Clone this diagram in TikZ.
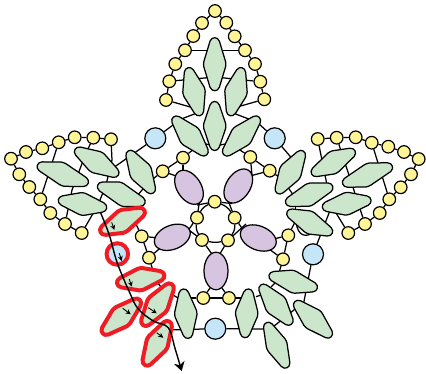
\documentclass[tikz,border=0pt]{standalone}
\usepackage{tikz}
\usepackage{xcolor}
\usetikzlibrary{shapes.geometric,arrows.meta}

\tikzset{
  thread/.style={line width=1.25pt, color=black},
  bead/.style={circle, draw, line width=1.2pt, fill=beadc, minimum size=12.6pt, inner sep=0pt},
  bluebead/.style={circle, draw, line width=1.2pt, fill=bluec, minimum size=21pt, inner sep=0pt},
  oval/.style={ellipse, draw, line width=1.25pt, fill=ovalc, minimum width=37.5pt, minimum height=24pt, inner sep=0pt},
  greenleaf/.style={draw, line width=1.25pt, fill=leafc},
  redleaf/.style={draw=redc, line width=4pt, fill=leafc, line join=round},
  pics/leaf/.style n args={3}{code={
    \path[pic actions] (-#1,0) .. controls (-#1,-2) and (-#1+1,-3.6) .. (-#1+3.5,-4.7)
      -- (#3-2.5,-#2+0.3) .. controls (#3-1,-#2) and (#3+1,-#2) .. (#3+2.5,-#2+0.3)
      -- (#1-3.5,-4.7) .. controls (#1-1,-3.6) and (#1,-2) .. (#1,0)
      .. controls (#1,2) and (#1-1,3.6) .. (#1-3.5,4.7)
      -- (-#3+2.5,#2-0.3) .. controls (-#3+1,#2) and (-#3-1,#2) .. (-#3-2.5,#2-0.3)
      -- (-#1+3.5,4.7) .. controls (-#1+1,3.6) and (-#1,2) .. (-#1,0) -- cycle;
  }},
}

\begin{document}
\begin{tikzpicture}[x=1pt,y=-1pt]
    \definecolor{beadc}{RGB}{255,245,150}
    \definecolor{bluec}{RGB}{197,230,248}
    \definecolor{ovalc}{RGB}{214,196,224}
    \definecolor{leafc}{RGB}{204,230,204}
    \definecolor{redc}{RGB}{238,28,37}
    \useasboundingbox (0,0) rectangle (426,373);

    % beads
    \foreach \n/\x/\y in {
      t1/166/100, t2/169.3/81.3, t3/175.3/64, t4/185/50.3, t5/193.3/36, t6/202/23, t7/215/11,
      t8/226.3/22.7, t9/234.7/36.3, t10/245/50.3, t11/255/64, t12/260.3/81.7, t13/264.3/99.3,
      m1/111/139.3, m2/93.3/137.7, m3/74.7/137.3, m4/58.7/142.3, m5/42.3/148.3, m6/26/152, m7/11/158.7,
      m8/19.3/174.3, m9/29.3/187, m10/40.3/199.3, m11/50.3/213, m12/65/224, m13/81.7/233,
      n1/317.7/139, n2/336.7/137.7, n3/355.7/137.3, n4/371.7/142.7, n5/388.3/146.7, n6/404/152, n7/418.7/159,
      n8/411/174.3, n9/400.7/187.3, n10/389.3/199.3, n11/379.7/213, n12/365/224, n13/348.3/233,
      r1/214.7/201.7, r2/234.7/217.7, r3/228/240.3, r4/202/240, r5/197/217.7,
      u1/183/157.7, u2/162.7/171.3, u3/250.3/157, u4/269.7/170.7,
      v1/141.7/236.3, v2/149/257.7, v3/288.3/235.3, v4/283/259.3,
      s1/203.3/298, s2/229/298}
      \node[bead] (\n) at (\x,\y) {};
    \foreach \n/\x/\y in {bl1/155.3/138.3, bl2/274.7/138.3, bl4/313/254.3, bl5/215.3/328.7}
      \node[bluebead] (\n) at (\x,\y) {};

    % free ends of the threads, under the leaves
    \foreach \n/\x/\y in {
      tm/215/77, ta/192/107.5, tb/236/107.3, la/176/121, lb/197/113, lc/254/121, ld/233/113,
      le/204/143.5, lf/212/145.5, lg/218/145.5, lh/230/143,
      e1/113/168, e2/177/122, e3/301/169, e4/258/123, e5/149/182, e6/194/149, e7/240/150, e8/285/181,
      pa/183/176, pb/179/177, pc/252/175, pd/250/176,
      a1/197/205, a2/200/198, a3/185/235, a4/185/227, a5/214/257, a6/218/257,
      a7/246/224, a8/246/234, a9/227.5/199, a10/232/203.5,
      w1/136/224, w2/154/274, w3/296/220, w4/278/276, w5/160/238, w6/165/244, w7/270/240, w8/265/246,
      c1/86/153, c2/72/190, c3/112/160, c4/106/185, c5/98/205, c6/136/197, c7/143/189,
      d1/327/185, d2/333/208, d3/331/208, d4/303.7/303, d5/287/186, d6/294/196, d7/295.7/203, d8/295.7/213,
      f1/210/288, f2/222/288, f3/186/298, f4/247/298, f5/173/295, f6/178/298, f7/256/296.7, f8/261/295,
      f9/271/287, f10/275/283, f11/166/330, f12/267/329, f13/268/331, f14/300/305, f15/157/282, f16/161/287,
      k1/296/222, k2/313/233}
      \coordinate (\n) at (\x,\y);

    % threads
    \foreach \i [count=\j from 2] in {1,...,12} {
      \draw[thread] (t\i) -- (t\j);
      \draw[thread] (m\i) -- (m\j);
      \draw[thread] (n\i) -- (n\j);
    }
    \draw[thread] (t4) -- (t10);
    \draw[thread] (t2) -- (tm) -- (t12);
    \draw[thread] (t1) -- (ta);
    \draw[thread] (t13) -- (tb);
    \draw[thread] (la) -- (lb);
    \draw[thread] (lc) -- (ld);
    \draw[thread] (le) -- (lf);
    \draw[thread] (lg) -- (lh);
    \draw[thread] (e1) -- (bl1) -- (e2);
    \draw[thread] (e3) -- (bl2) -- (e4);
    \draw[thread] (e5) -- (u2) -- (u1) -- (e6);
    \draw[thread] (e7) -- (u3) -- (u4) -- (e8);
    \draw[thread] (u1) -- (pa);
    \draw[thread] (u2) -- (pb);
    \draw[thread] (u3) -- (pc);
    \draw[thread] (u4) -- (pd);
    \draw[thread] (r1) to[bend left=18] (r2);
    \draw[thread] (r2) to[bend left=18] (r3);
    \draw[thread] (r3) to[bend left=12] (r4);
    \draw[thread] (r4) to[bend left=18] (r5);
    \draw[thread] (r5) to[bend left=18] (r1);
    \draw[thread] (r1) -- (a1);
    \draw[thread] (r5) -- (a2);
    \draw[thread] (r5) -- (a3);
    \draw[thread] (r4) -- (a4);
    \draw[thread] (r4) -- (a5);
    \draw[thread] (r3) -- (a6);
    \draw[thread] (r3) -- (a7);
    \draw[thread] (r2) -- (a8);
    \draw[thread] (r2) -- (a9);
    \draw[thread] (r1) -- (a10);
    \draw[thread] (w1) -- (v1) -- (v2) -- (w2);
    \draw[thread] (w3) -- (v3) -- (v4) -- (w4);
    \draw[thread] (v1) -- (w5);
    \draw[thread] (v2) -- (w6);
    \draw[thread] (v3) -- (w7);
    \draw[thread] (v4) -- (w8);
    \draw[thread] (m2) -- (c1) -- (c2) -- (m12);
    \draw[thread] (m4) -- (m10);
    \draw[thread] (m1) -- (c3) -- (c4) -- (c5) -- (m13);
    \draw[thread] (c6) -- (c7);
    \draw[thread] (n1) -- (d1);
    \draw[thread] (n2) -- (n12);
    \draw[thread] (n4) -- (n10);
    \draw[thread] (n13) -- (d2);
    \draw[thread] (d3) -- (bl4) -- (d4);
    \draw[thread] (d5) -- (d6);
    \draw[thread] (d7) -- (d8);
    \draw[thread] (s1) -- (f1);
    \draw[thread] (s2) -- (f2);
    \draw[thread] (f3) -- (s1) -- (s2) -- (f4);
    \draw[thread] (f5) -- (f6);
    \draw[thread] (f7) -- (f8);
    \draw[thread] (f9) -- (f10);
    \draw[thread] (f11) -- (bl5) -- (f12);
    \draw[thread] (f13) -- (f14);
    \draw[thread] (f15) -- (f16);
    \draw[thread] (k1) .. controls (298,237) and (306,237) .. (k2);

    % ovals
    \node[oval, rotate=-57] (o1) at (189,187.3) {};
    \node[oval, rotate=57] (o2) at (238.3,186) {};
    \node[oval, rotate=22] (o3) at (172.3,237.3) {};
    \node[oval, rotate=-22] (o4) at (258.3,238) {};
    \node[oval, rotate=90] (o5) at (216,271) {};

    % green leaves: name, centre, angle, half length, half width, slant
    \foreach \n/\x/\y/\a/\l/\w/\s in {
      g1/214.7/64.2/90/26.5/11.2/0, g2/194/91.7/-76/24.7/11.2/0, g3/236/91.7/76/24.7/11.2/0,
      g4/214.7/126/90/24.5/11.2/0, g5/190/136/-48.5/25.2/11.2/0, g6/241.5/136/47/25.8/11.2/0,
      g7/62.8/174.2/-19.7/27/11.2/-3, g8/96.7/162.2/-30.7/25.2/11.2/0, g9/121.3/194.2/-21/25.3/11/-4,
      g10/82.5/204/-9.7/24.5/11.2/-1, g11/140.7/172/-59.4/24.5/11.2/0,
      g12/185.8/313.7/-84.2/24.8/11.2/0, g13/246.7/313.3/85.3/24.4/11.2/0, g14/276/304.7/-52/24.9/11.2/0,
      g15/276.7/345.2/-65.3/24.8/10.5/0, g16/313/319.2/-43.7/25.3/11/0, g17/293.2/281.7/-15.4/25/11/-2,
      g18/309.7/222.5/-25.5/25/11/-2, g19/309.2/194.7/20/25/11/2, g20/346.7/203.7/8.6/24.6/11.2/1,
      g21/367.5/175/20/26.4/11/3, g22/333.3/162.4/28.3/24.6/11/2, g23/290.3/172.2/58.4/24.8/11.2/0}
      \pic[greenleaf, rotate=\a] (\n) at (\x,\y) {leaf={\l}{\w}{\s}};

    % the marked ones
    \foreach \n/\x/\y/\a/\l/\w/\s in {
      h1/122.5/221.3/26.4/24.5/11/2, h3/140.7/279.2/10/24/11/1, h4/157.5/304.7/55/25/11/0,
      h5/121.3/316.7/41.8/25/11/0, h6/157.2/343.3/60.7/25/11/0}
      \pic[redleaf, rotate=\a] (\n) at (\x,\y) {leaf={\l}{\w}{\s}};
    \node[circle, draw=redc, line width=4pt, fill=bluec, minimum size=21.5pt, inner sep=0pt] (bl3) at (117.3,254) {};

    % the way through
    \draw[line width=1.4pt, -{Stealth[length=9pt,width=11pt]}] plot[smooth, tension=0.6] coordinates
      {(100.7,213) (109.3,235) (117.3,263) (130,293.3) (138.3,309) (153.3,321) (168.3,327.7) (175,348.3) (181.7,371)};
    \foreach \x/\y/\u/\v in {111.7/222.3/114.3/230, 119.3/253.3/121.7/261, 129.3/279/131.7/286.7,
      122.7/308.3/130.7/314.3, 148.3/307.7/156.7/313.3, 156.7/332.7/163.3/337.7}
      \draw[line width=0.9pt, -{Stealth[length=5pt,width=5pt]}] (\x,\y) -- (\u,\v);
  \end{tikzpicture}
\end{document}
